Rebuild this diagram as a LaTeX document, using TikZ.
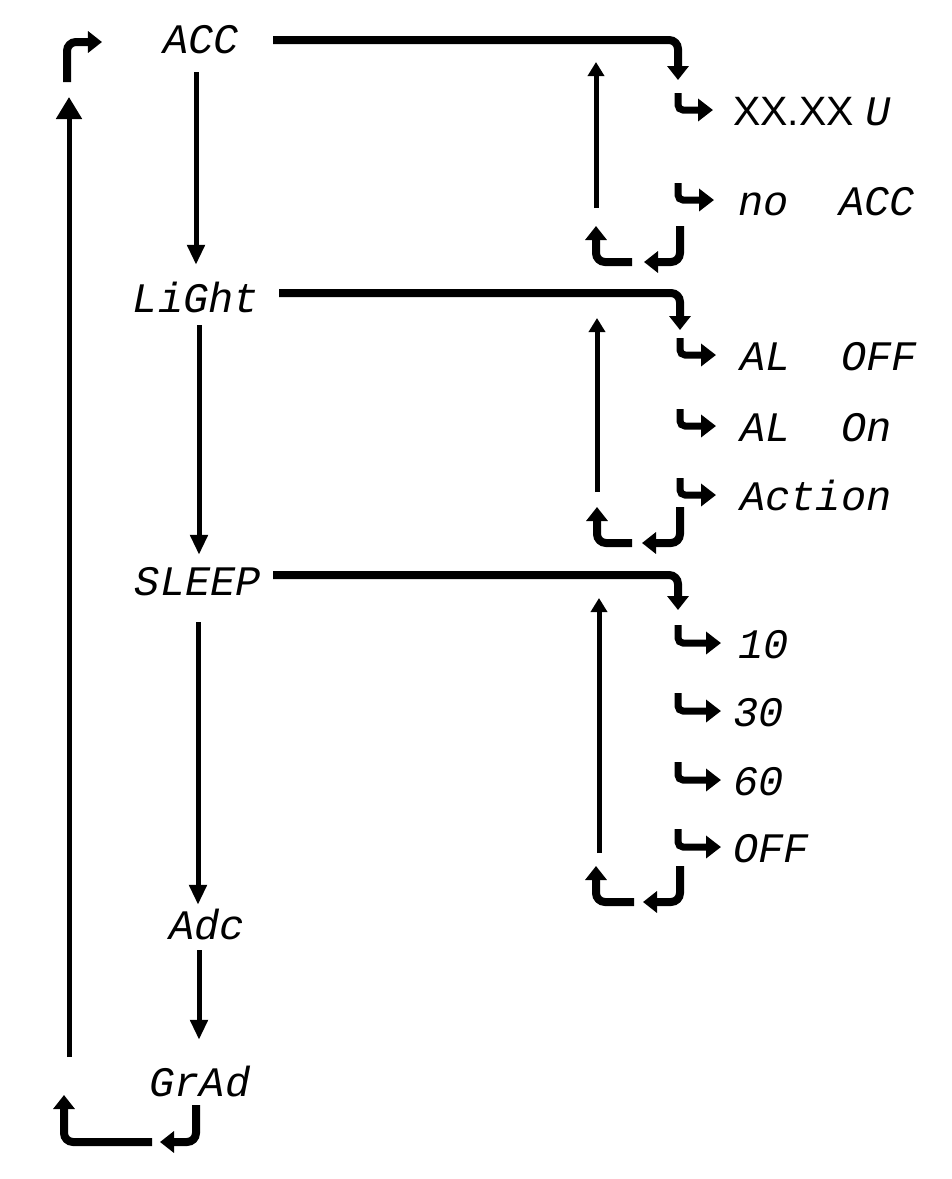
\documentclass[tikz,border=0pt]{standalone}
\usepackage{fontspec}
\setmainfont{Liberation Sans}
\newfontfamily\segfont{Liberation Mono}
\usetikzlibrary{arrows.meta}

\begin{document}
\begin{tikzpicture}[x=1pt,y=-1pt,
    seg/.style={font=\segfont\itshape\fontsize{42}{42}\selectfont, inner sep=0pt, text height=30pt, text depth=0pt},
    item/.style={seg, anchor=west},
    menuarrow/.style={line width=5pt, -{Triangle[width=17pt,length=20pt]}},
    backarrow/.style={line width=5pt, -{Triangle[width=16pt,length=14pt]}},
    homearrow/.style={line width=5pt, -{Triangle[width=25pt,length=22pt]}},
    branch/.style={line width=8pt, rounded corners=9pt, -{Triangle[width=21pt,length=14pt]}},
    hookarrow/.style={line width=7pt, rounded corners=5pt, -{Triangle[width=22pt,length=15pt]}}]

    \useasboundingbox (0,0) rectangle (952,1179);

    % main menu
    \node[seg] (acc) at (201,38) {ACC};
    \node[seg] (light) at (196,297) {LiGht};
    \node[seg] (sleep) at (198,580) {SLEEP};
    \node[seg] (adc) at (207,924) {Adc};
    \node[seg] (grad) at (200,1081) {GrAd};

    \draw[menuarrow, shorten <=19pt, shorten >=17pt] (light |- acc.south) -- (light.north);
    \draw[menuarrow, shorten <=13pt, shorten >=10pt] ([xshift=3pt]light.south) -- ([xshift=3pt]light.south |- sleep.north);
    \draw[menuarrow, shorten <=27pt, shorten >=4pt] (sleep.south) -- (sleep.south |- adc.north);
    \draw[menuarrow, shorten <=11pt, shorten >=26pt] ([xshift=-8pt]adc.south) -- ([xshift=-8pt]adc.south |- grad.north);

    % ACC
    \node[item, font=\fontsize{41}{41}\selectfont] (accV) at (733,110) {XX.XX {\segfont\itshape\fontsize{42}{42}\selectfont U}};
    \node[item] (accNo) at (738,200) {no~~ACC};
    \coordinate (accIn) at (678,80);
    \coordinate (accEnd) at (680,226);
    \coordinate (accBack) at (644,262);
    \coordinate (accLoop) at (632,262);
    \coordinate (accUp) at (596,226);
    \coordinate (accRise) at (596,208);
    \coordinate (accTop) at (596,62);
    \draw[branch] ([xshift=34pt,yshift=-2pt]acc.east) -| (accIn);
    \draw[hookarrow] ([yshift=17pt]accV.west -| accIn) |- ([xshift=-20pt]accV.west);
    \draw[hookarrow] ([yshift=17pt]accNo.west -| accIn) |- ([xshift=-24pt]accNo.west);
    \draw[branch] (accEnd) |- (accBack);
    \draw[branch] (accLoop) -| (accUp);
    \draw[backarrow] (accRise) -- (accTop);

    % LiGht
    \node[item] (alOff) at (740,355) {AL~~OFF};
    \node[item] (alOn) at (740,426) {AL~~On};
    \node[item] (action) at (740,495) {Action};
    \coordinate (lightIn) at (680,330);
    \coordinate (lightEnd) at (680,507);
    \coordinate (lightBack) at (642,543);
    \coordinate (lightLoop) at (632,543);
    \coordinate (lightUp) at (597,507);
    \coordinate (lightRise) at (597,492);
    \coordinate (lightTop) at (597,318);
    \draw[branch] ([xshift=20pt,yshift=4pt]light.east) -| (lightIn);
    \draw[hookarrow] ([yshift=17pt]alOff.west -| lightIn) |- ([xshift=-24pt]alOff.west);
    \draw[hookarrow] ([yshift=17pt]alOn.west -| lightIn) |- ([xshift=-24pt]alOn.west);
    \draw[hookarrow] ([yshift=17pt]action.west -| lightIn) |- ([xshift=-24pt]action.west);
    \draw[branch] (lightEnd) |- (lightBack);
    \draw[branch] (lightLoop) -| (lightUp);
    \draw[backarrow] (lightRise) -- (lightTop);

    % SLEEP
    \node[item] (s10) at (738,643) {10};
    \node[item] (s30) at (733,711) {30};
    \node[item] (s60) at (733,780) {60};
    \node[item] (sOff) at (733,847) {OFF};
    \coordinate (sleepIn) at (678,610);
    \coordinate (sleepEnd) at (680,866);
    \coordinate (sleepBack) at (643,902);
    \coordinate (sleepLoop) at (634,902);
    \coordinate (sleepUp) at (596,866);
    \coordinate (sleepRise) at (599,853);
    \coordinate (sleepTop) at (599,598);
    \draw[branch] ([xshift=12pt,yshift=5pt]sleep.east) -| (sleepIn);
    \draw[hookarrow] ([yshift=18pt]s10.west -| sleepIn) |- ([xshift=-17pt]s10.west);
    \draw[hookarrow] ([yshift=18pt]s30.west -| sleepIn) |- ([xshift=-12pt]s30.west);
    \draw[hookarrow] ([yshift=18pt]s60.west -| sleepIn) |- ([xshift=-12pt]s60.west);
    \draw[hookarrow] ([yshift=18pt]sOff.west -| sleepIn) |- ([xshift=-12pt]sOff.west);
    \draw[branch] (sleepEnd) |- (sleepBack);
    \draw[branch] (sleepLoop) -| (sleepUp);
    \draw[backarrow] (sleepRise) -- (sleepTop);

    % back to the top
    \coordinate (gradBack) at (160,1142);
    \coordinate (gradLoop) at (152,1142);
    \coordinate (gradUp) at (64,1095);
    \coordinate (homeRise) at (69,1057);
    \coordinate (homeTop) at (69,97);
    \coordinate (homeHook) at (67,82);
    \draw[branch] ([xshift=-4pt,yshift=-9pt]grad.south) |- (gradBack);
    \draw[branch] (gradLoop) -| (gradUp);
    \draw[homearrow] (homeRise) -- (homeTop);
    \draw[branch] (homeHook) |- ([xshift=-61pt,yshift=-4pt]acc.west);
\end{tikzpicture}
\end{document}
